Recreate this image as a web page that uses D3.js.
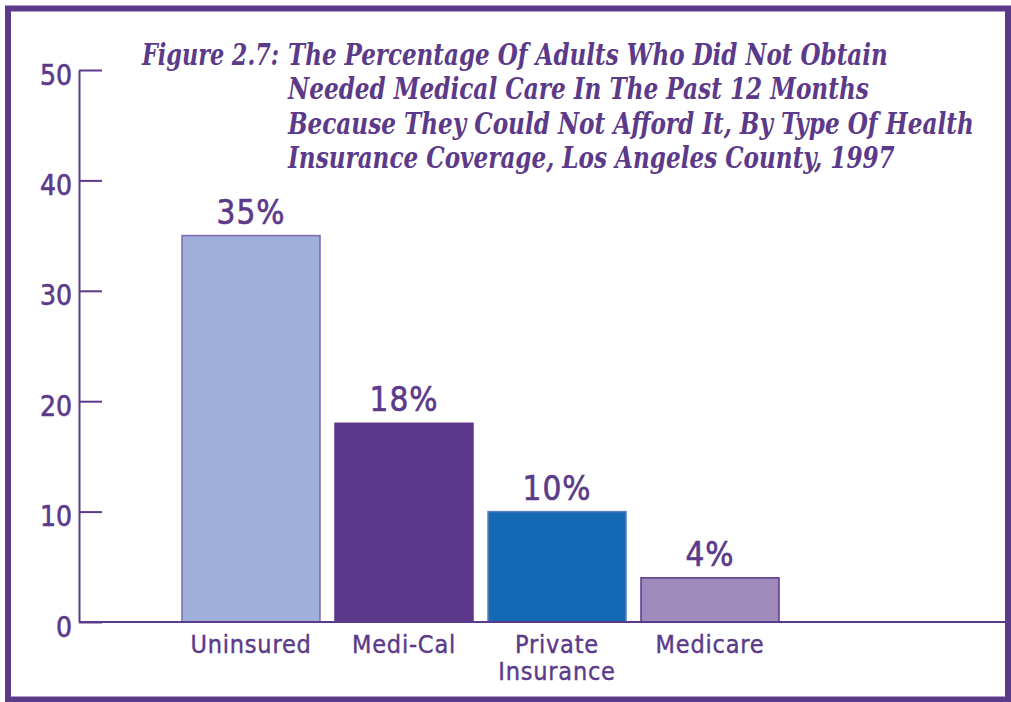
<!DOCTYPE html>
<html>
<head>
<meta charset="utf-8">
<script src="https://cdn.jsdelivr.net/npm/d3@7"></script>
<style>
  html, body { margin: 0; padding: 0; background: #fff; }
  svg { display: block; }
</style>
</head>
<body>
<svg id="chart" width="1011" height="702"></svg>
<script>
// ---- data ----
const categories = ["Uninsured", "Medi-Cal", "Private\nInsurance", "Medicare"];
const values = [35, 18, 10, 4];
const valueLabels = ["35%", "18%", "10%", "4%"];
const yTicks = [0, 10, 20, 30, 40, 50];
const barColors = ["#a0b0db", "#5d3789", "#1568b3", "#9e8bbb"];
const barStrokes = ["#7a68b2", "#5d3789", "#5a7fc0", "#5d3789"];
const titlePrefix = "Figure 2.7:";
const titleLines = [
  "The Percentage Of Adults Who Did Not Obtain",
  "Needed Medical Care In The Past 12 Months",
  "Because They Could Not Afford It, By Type Of Health",
  "Insurance Coverage, Los Angeles County, 1997"
];

// ---- drawing ----
const purple = "#5c3a8a";
const sans = "'DejaVu Sans Condensed', 'DejaVu Sans', sans-serif";
const svg = d3.select("#chart");

// frame
svg.append("rect")
  .attr("x", 8).attr("y", 8.5)
  .attr("width", 1000).attr("height", 691)
  .attr("fill", "#fff")
  .attr("stroke", purple)
  .attr("stroke-width", 6);

const y = d3.scaleLinear().domain([0, 50]).range([622, 70]);
const x = d3.scaleBand().domain(categories).range([182, 779])
  .paddingInner(0.098).paddingOuter(0);

// y axis
const yAxis = d3.axisLeft(y).tickValues(yTicks).tickSize(-23).tickPadding(30).tickSizeOuter(0);
const gy = svg.append("g").attr("transform", "translate(79,0)").call(yAxis);
gy.select(".domain").attr("stroke", purple).attr("stroke-width", 2);
gy.selectAll(".tick line").attr("stroke", purple).attr("stroke-width", 2);
gy.selectAll(".tick text")
  .attr("fill", purple)
  .attr("stroke", purple).attr("stroke-width", 0.6)
  .attr("x", -7)
  .attr("dy", "0.5em")
  .style("font-family", sans)
  .style("font-size", "28px");

// bars
svg.append("g").selectAll("rect")
  .data(values)
  .join("rect")
  .attr("x", (d, i) => x(categories[i]))
  .attr("y", d => y(d))
  .attr("width", x.bandwidth())
  .attr("height", d => y(0) - y(d))
  .attr("fill", (d, i) => barColors[i])
  .attr("stroke", (d, i) => barStrokes[i])
  .attr("stroke-width", 1.5);

// baseline
svg.append("line")
  .attr("x1", 79).attr("x2", 1005)
  .attr("y1", y(0)).attr("y2", y(0))
  .attr("stroke", purple).attr("stroke-width", 2);

// value labels
svg.append("g").selectAll("text")
  .data(values)
  .join("text")
  .attr("x", (d, i) => x(categories[i]) + x.bandwidth() / 2)
  .attr("y", d => y(d) - 12)
  .attr("text-anchor", "middle")
  .attr("fill", purple)
  .attr("stroke", purple).attr("stroke-width", 0.6)
  .style("font-family", sans)
  .style("font-size", "33px")
  .style("letter-spacing", "1px")
  .text((d, i) => valueLabels[i]);

// category labels
const catG = svg.append("g");
categories.forEach((c, i) => {
  const t = catG.append("text")
    .attr("text-anchor", "middle")
    .attr("fill", purple)
    .attr("stroke", purple).attr("stroke-width", 0.4)
    .style("font-family", sans)
    .style("font-size", "25px")
    .style("letter-spacing", "0.8px");
  c.split("\n").forEach((line, j) => {
    t.append("tspan")
      .attr("x", x(c) + x.bandwidth() / 2)
      .attr("y", 653 + j * 27)
      .text(line);
  });
});

// title: each line is horizontally compressed to its target width
const titleFont = "'DejaVu Serif Condensed', 'DejaVu Serif', serif";
function titleText(str, x0, x1, yb) {
  const t = svg.append("text")
    .attr("x", 0).attr("y", 0)
    .attr("fill", purple)
    .style("font-family", titleFont)
    .style("font-style", "italic").style("font-weight", "bold")
    .style("font-size", "30px")
    .text(str);
  const w = t.node().getComputedTextLength();
  const sx = (x1 - x0) / w;
  t.attr("transform", `translate(${x0},${yb}) scale(${sx},1)`);
}
titleText(titlePrefix, 142, 279, 65);
const lineEnds = [888, 869, 974, 895];
titleLines.forEach((l, i) => titleText(l, 288, lineEnds[i], 65 + i * 34.3));
</script>
</body>
</html>
